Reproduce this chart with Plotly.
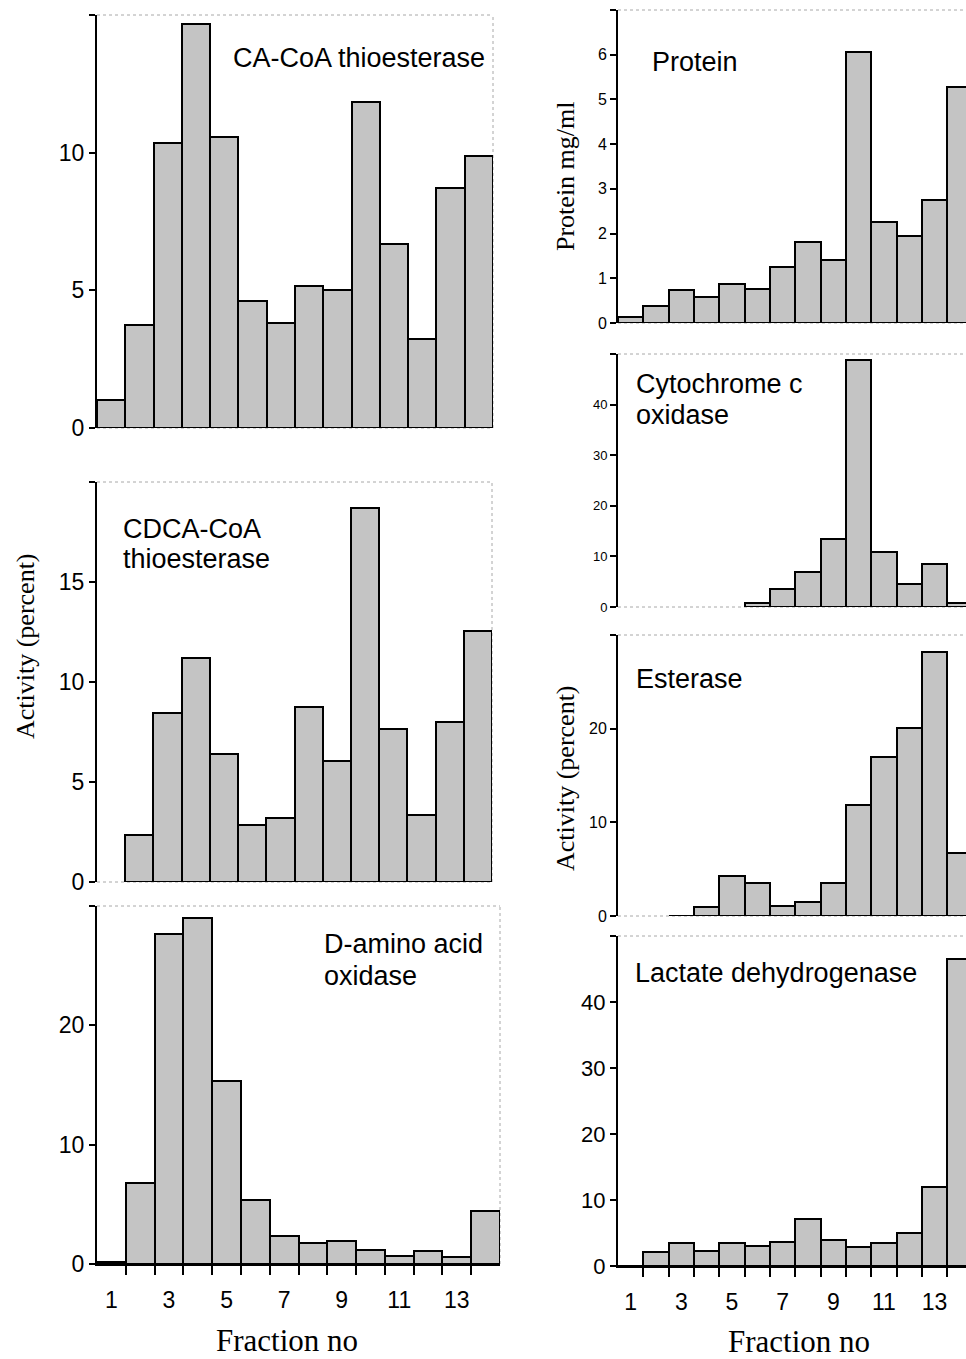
import plotly.graph_objects as go

# ---------------- data ----------------
fractions = list(range(1, 15))
ca_coa = [1.0, 3.75, 10.35, 14.67, 10.57, 4.6, 3.8, 5.15, 5.0, 11.85, 6.67, 3.24, 8.71, 9.89]
cdca_coa = [None, 2.35, 8.44, 11.19, 6.42, 2.85, 3.18, 8.74, 6.05, 18.69, 7.63, 3.35, 7.99, 12.55]
d_amino = [0.2, 6.77, 27.66, 28.97, 15.32, 5.38, 2.31, 1.75, 1.89, 1.14, 0.64, 1.06, 0.56, 4.46]
protein = [0.13, 0.39, 0.73, 0.58, 0.88, 0.76, 1.26, 1.82, 1.41, 6.05, 2.26, 1.95, 2.75, 5.28]
cyto_ox = [None, None, None, None, None, 0.8, 3.47, 6.87, 13.47, 48.8, 10.87, 4.47, 8.53, 0.87]
esterase = [None, None, 0.05, 0.93, 4.28, 3.49, 1.1, 1.5, 3.49, 11.8, 17.0, 20.07, 28.16, 6.7]
lactate = [0.05, 2.07, 3.43, 2.32, 3.43, 3.03, 3.64, 7.07, 3.94, 2.93, 3.54, 4.95, 12.0, 46.5]

x_tick_vals = [1, 3, 5, 7, 9, 11, 13]
x_tick_text = ["1", "3", "5", "7", "9", "11", "13"]
x_edge_ticks = [k + 0.5 for k in range(1, 14)]

# reference layout grid (pixels) used to place the panels
W, H = 966, 1359
FIG_H = 1372
SANS = "Liberation Sans, Arial, sans-serif"
SERIF = "Liberation Serif, Times New Roman, serif"
BAR_FILL = "#c4c4c4"
FRAME = "#a8a8a8"


def px(x):
    return x / W


def py(y):
    return 1 - y / H


def xd(a, b):
    return [max(px(a), 0.0), min(px(b), 1.0)]


def yd(top, bottom):
    return [py(bottom), min(py(top), 1.0)]


panels = [
    dict(data=ca_coa, x=(97, 493), y=(15, 428), ymax=15, yt=[0, 5, 10, 15], fs=23,
         xmax=14.5, bottom=False, right=True,
         labels=[("CA-CoA thioesterase", 231, 58)]),
    dict(data=cdca_coa, x=(97, 492), y=(482, 882), ymax=20, yt=[0, 5, 10, 15, 20], fs=23,
         xmax=14.5, bottom=False, right=True,
         labels=[("CDCA-CoA", 121, 529), ("thioesterase", 121, 559)]),
    dict(data=d_amino, x=(97, 500), y=(906, 1264), ymax=30, yt=[0, 10, 20, 30], fs=23,
         xmax=14.5, bottom=True, right=True,
         labels=[("D-amino acid", 322, 944), ("oxidase", 322, 976)]),
    dict(data=protein, x=(618, 966), y=(10, 323), ymax=7, yt=[0, 1, 2, 3, 4, 5, 6, 7], fs=16,
         xmax=14.24, bottom=False, right=False,
         labels=[("Protein", 650, 62)]),
    dict(data=cyto_ox, x=(618, 966), y=(354, 607), ymax=50, yt=[0, 10, 20, 30, 40, 50], fs=13,
         xmax=14.24, bottom=False, right=False,
         labels=[("Cytochrome c", 634, 384), ("oxidase", 634, 415)]),
    dict(data=esterase, x=(618, 966), y=(635, 916), ymax=30, yt=[0, 10, 20, 30], fs=16,
         xmax=14.24, bottom=False, right=False,
         labels=[("Esterase", 634, 679)]),
    dict(data=lactate, x=(618, 966), y=(936, 1266), ymax=50, yt=[0, 10, 20, 30, 40, 50], fs=22,
         xmax=14.24, bottom=True, right=False,
         labels=[("Lactate dehydrogenase", 633, 973)]),
]

fig = go.Figure()
layout = dict(
    width=W, height=FIG_H, margin=dict(l=0, r=0, t=0, b=0),
    paper_bgcolor="white", plot_bgcolor="white",
    showlegend=False, bargap=0, annotations=[], shapes=[],
)

extra_axis = len(panels)
for i, p in enumerate(panels, start=1):
    sx = "" if i == 1 else str(i)
    xname, yname = "x" + sx, "y" + sx
    fig.add_trace(go.Bar(
        x=fractions, y=p["data"], xaxis=xname, yaxis=yname, width=1,
        marker=dict(color=BAR_FILL, line=dict(color="black", width=2)),
        hoverinfo="x+y",
    ))
    xa = dict(domain=xd(*p["x"]), range=[0.5, p["xmax"]], anchor=yname,
              showgrid=False, zeroline=False, fixedrange=True)
    if p["bottom"]:
        # tick marks at the fraction boundaries
        xa.update(showline=True, linecolor="black", linewidth=2,
                  tickmode="array", tickvals=x_edge_ticks,
                  ticks="outside", ticklen=9, tickwidth=2, tickcolor="black",
                  showticklabels=False)
        # overlay axis carrying the fraction-number labels
        extra_axis += 1
        ox = "x" + str(extra_axis)
        layout["xaxis" + str(extra_axis)] = dict(
            overlaying=xname, anchor=yname, side="bottom",
            range=[0.5, p["xmax"]], showgrid=False, zeroline=False,
            showline=False, ticks="", fixedrange=True,
            tickmode="array", tickvals=x_tick_vals, ticktext=x_tick_text,
            ticklabelstandoff=20,
            tickfont=dict(family=SANS, size=23, color="black"))
        fig.add_trace(go.Scatter(x=[None], y=[None], xaxis=ox, yaxis=yname,
                                 mode="markers", hoverinfo="skip"))
    else:
        xa.update(showline=False, ticks="", showticklabels=False)
    ytext = [str(v) for v in p["yt"][:-1]] + [""]
    ya = dict(domain=yd(*p["y"]), range=[0, p["ymax"]], anchor=xname,
              showgrid=False, zeroline=False, fixedrange=True,
              showline=True, linecolor="black", linewidth=2,
              tickmode="array", tickvals=p["yt"], ticktext=ytext,
              ticks="outside", ticklen=6, tickwidth=2, tickcolor="black",
              tickfont=dict(family=SANS, size=p["fs"], color="black"))
    layout["xaxis" + sx] = xa
    layout["yaxis" + sx] = ya

    # thin grey frame (top / right / bottom)
    xr, yr = xname + " domain", yname + " domain"
    frame_lines = [(0, 1, 1, 1), (0, 1, 0, 0)]
    if p["right"]:
        frame_lines.append((1, 1, 0, 1))
    for x0, x1, y0, y1 in frame_lines:
        layout["shapes"].append(dict(type="line", xref=xr, yref=yr,
                                     x0=x0, x1=x1, y0=y0, y1=y1, layer="below",
                                     line=dict(color=FRAME, width=1, dash="dot")))

    for txt, lx, ly in p["labels"]:
        layout["annotations"].append(dict(
            text=txt, x=px(lx), y=py(ly), xref="paper", yref="paper",
            xanchor="left", yanchor="middle", showarrow=False,
            font=dict(family=SANS, size=27, color="black")))

# axis titles
titles = [
    ("Activity (percent)", 25, 646, -90, 26),
    ("Protein mg/ml", 565, 176, -90, 26),
    ("Activity (percent)", 565, 778, -90, 26),
    ("Fraction no", 287, 1340, 0, 31),
    ("Fraction no", 799, 1341, 0, 31),
]
for txt, tx, ty, ang, fs in titles:
    layout["annotations"].append(dict(
        text=txt, x=px(tx), y=py(ty), xref="paper", yref="paper",
        xanchor="center", yanchor="middle", showarrow=False, textangle=ang,
        font=dict(family=SERIF, size=fs, color="black")))

fig.update_layout(**layout)
fig.write_html("out.html", config={"displayModeBar": False},
               post_script="document.body.style.margin='0';")
